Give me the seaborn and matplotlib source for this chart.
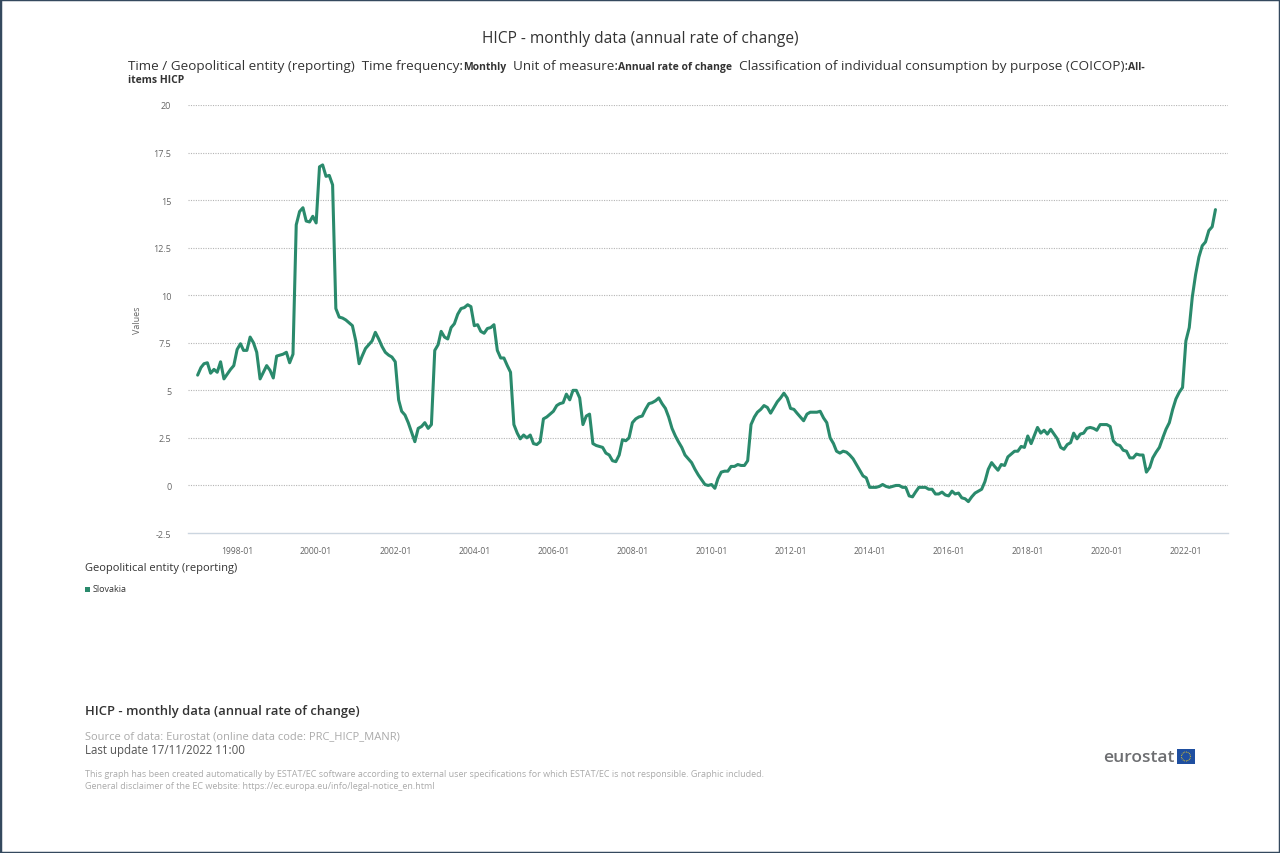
import numpy as np
import pandas as pd
import matplotlib
matplotlib.use("Agg")
import matplotlib.pyplot as plt
from matplotlib.patches import Rectangle, Circle
from matplotlib.transforms import IdentityTransform
import seaborn as sns

# HICP annual rate of change, Slovakia, monthly 1997-01 .. 2022-10
months = pd.date_range("1997-01-01", "2022-10-01", freq="MS")
slovakia = [
    5.8, 6.2, 6.4, 6.45, 5.9, 6.1, 5.95, 6.5, 5.6, 5.85, 6.1, 6.3,          # 1997
    7.15, 7.45, 7.1, 7.1, 7.8, 7.5, 7.0, 5.6, 5.95, 6.3, 6.05, 5.65,        # 1998
    6.8, 6.85, 6.9, 7.0, 6.45, 6.9, 13.7, 14.4, 14.6, 13.9, 13.85, 14.15,   # 1999
    13.8, 16.75, 16.85, 16.25, 16.3, 15.8, 9.3, 8.85, 8.8, 8.7, 8.55, 8.4,  # 2000
    7.6, 6.4, 6.8, 7.2, 7.4, 7.6, 8.05, 7.7, 7.3, 7.0, 6.85, 6.75,          # 2001
    6.5, 4.5, 3.9, 3.7, 3.3, 2.8, 2.3, 3.0, 3.1, 3.3, 3.0, 3.2,             # 2002
    7.1, 7.4, 8.1, 7.8, 7.7, 8.3, 8.5, 9.0, 9.3, 9.35, 9.5, 9.4,            # 2003
    8.4, 8.45, 8.1, 8.0, 8.25, 8.3, 8.45, 7.1, 6.7, 6.7, 6.3, 5.95,         # 2004
    3.2, 2.75, 2.45, 2.65, 2.5, 2.65, 2.2, 2.15, 2.3, 3.5, 3.6, 3.75,       # 2005
    3.9, 4.2, 4.3, 4.35, 4.8, 4.5, 5.0, 5.0, 4.6, 3.2, 3.65, 3.75,          # 2006
    2.2, 2.1, 2.05, 2.0, 1.7, 1.6, 1.3, 1.25, 1.6, 2.4, 2.35, 2.5,          # 2007
    3.3, 3.5, 3.6, 3.65, 4.0, 4.3, 4.35, 4.45, 4.6, 4.3, 4.05, 3.6,         # 2008
    3.0, 2.6, 2.3, 2.0, 1.6, 1.4, 1.2, 0.85, 0.55, 0.3, 0.05, 0.0,          # 2009
    0.05, -0.15, 0.35, 0.7, 0.75, 0.75, 1.0, 1.0, 1.1, 1.05, 1.05, 1.3,     # 2010
    3.2, 3.6, 3.85, 4.0, 4.2, 4.1, 3.8, 4.1, 4.4, 4.6, 4.85, 4.6,           # 2011
    4.05, 4.0, 3.8, 3.6, 3.4, 3.75, 3.85, 3.85, 3.85, 3.9, 3.55, 3.3,       # 2012
    2.5, 2.2, 1.8, 1.7, 1.8, 1.75, 1.6, 1.4, 1.1, 0.8, 0.5, 0.4,            # 2013
    -0.1, -0.1, -0.1, -0.05, 0.05, -0.05, -0.1, -0.05, 0.0, 0.0, -0.1, -0.1,  # 2014
    -0.55, -0.6, -0.35, -0.1, -0.1, -0.1, -0.2, -0.2, -0.45, -0.45, -0.35, -0.5,  # 2015
    -0.55, -0.3, -0.45, -0.4, -0.65, -0.7, -0.85, -0.6, -0.4, -0.3, -0.2, 0.2,  # 2016
    0.85, 1.2, 1.0, 0.8, 1.1, 1.05, 1.5, 1.65, 1.8, 1.8, 2.05, 2.0,         # 2017
    2.6, 2.2, 2.6, 3.05, 2.75, 2.9, 2.7, 2.95, 2.7, 2.45, 2.0, 1.9,         # 2018
    2.15, 2.25, 2.75, 2.45, 2.7, 2.75, 3.0, 3.05, 3.0, 2.9, 3.2, 3.2,       # 2019
    3.2, 3.1, 2.35, 2.15, 2.1, 1.85, 1.8, 1.45, 1.45, 1.65, 1.6, 1.6,       # 2020
    0.7, 0.95, 1.45, 1.75, 2.0, 2.5, 2.95, 3.3, 4.0, 4.55, 4.9, 5.15,       # 2021
    7.6, 8.3, 9.9, 11.1, 12.0, 12.6, 12.8, 13.4, 13.6, 14.5,                # 2022
]
y_ticks = [-2.5, 0, 2.5, 5, 7.5, 10, 12.5, 15, 17.5, 20]
y_labels = ["-2.5", "0", "2.5", "5", "7.5", "10", "12.5", "15", "17.5", "20"]
x_ticks = pd.to_datetime([f"{y}-01-01" for y in range(1998, 2023, 2)])
x_labels = [f"{y}-01" for y in range(1998, 2023, 2)]

GREEN = "#2a8a6c"
W, H = 1280, 854

sns.set_style("white")
plt.rcParams["font.family"] = ["Open Sans", "DejaVu Sans"]

df = pd.DataFrame({"month": months, "value": slovakia})

fig = plt.figure(figsize=(W / 100, H / 100), dpi=100)
ax = fig.add_axes([188 / W, 1 - 534 / H, (1228 - 188) / W, (534 - 106) / H])
sns.lineplot(data=df, x="month", y="value", ax=ax, color=GREEN, linewidth=2.2)

ax.set_ylim(-2.5, 20)
ax.set_xlim(pd.Timestamp("1996-10-04"), pd.Timestamp("2023-01-25"))
ax.set_yticks(y_ticks)
ax.set_yticklabels(y_labels)
ax.set_xticks(x_ticks)
ax.set_xticklabels(x_labels)
for v in y_ticks[1:]:
    ax.axhline(v, color="#b5b5b5", lw=0.8, ls=(0, (1, 1.2)), zorder=0)
for s in ["top", "left", "right"]:
    ax.spines[s].set_visible(False)
ax.spines["bottom"].set_color("#ccd6e0")
ax.spines["bottom"].set_linewidth(1)
ax.tick_params(axis="y", length=0, pad=12, labelsize=6.5, labelcolor="#666666")
ax.tick_params(axis="x", length=5, width=1, color="#ccd6e0", pad=4,
               labelsize=6.2, labelcolor="#666666")
ax.set_xlabel("")
ax.set_ylabel("")


def px(x, y):
    return x / W, 1 - y / H


def runs(x, y, parts):
    r = fig.canvas.get_renderer()
    for txt, kw in parts:
        t = fig.text(x, H - y, txt, transform=IdentityTransform(), va="baseline", **kw)
        x += t.get_window_extent(r).width


fig.text(*px(640, 39), "HICP - monthly data (annual rate of change)", ha="center",
         va="center", fontsize=11.2, color="#333333")
fig.text(*px(138, 320), "Values", rotation=90, ha="center", va="center",
         fontsize=6.5, color="#666666")

reg = dict(fontsize=9.7, color="#333333")
bld = dict(fontsize=7.5, color="#333333", fontweight="bold")
runs(128, 70, [
    ("Time / Geopolitical entity (reporting)  Time frequency:", reg),
    ("Monthly", bld),
    ("  Unit of measure:", reg),
    ("Annual rate of change", bld),
    ("  Classification of individual consumption by purpose (COICOP):", reg),
    ("All-", bld),
])
runs(128, 83, [("items HICP", bld)])

# legend
fig.text(*px(85, 569), "Geopolitical entity (reporting)", ha="left", va="center",
         fontsize=8.0, color="#333333")
fig.patches.append(Rectangle(px(85, 593), 5 / W, 5 / H, transform=fig.transFigure,
                             facecolor=GREEN, edgecolor="none"))
fig.text(*px(93, 590), "Slovakia", ha="left", va="center", fontsize=6.5, color="#333333")

# footer
fig.text(*px(85, 711), "HICP - monthly data (annual rate of change)", ha="left",
         va="center", fontsize=9.4, color="#333333", fontweight="semibold")
fig.text(*px(85, 737), "Source of data: Eurostat (online data code: PRC_HICP_MANR)",
         ha="left", va="center", fontsize=8.0, color="#aaaaaa")
fig.text(*px(85, 751), "Last update 17/11/2022 11:00", ha="left", va="center",
         fontsize=8.3, color="#555555")
fig.text(*px(85, 775), "This graph has been created automatically by ESTAT/EC software "
         "according to external user specifications for which ESTAT/EC is not "
         "responsible. Graphic included.", ha="left", va="center", fontsize=6.5,
         color="#aaaaaa")
fig.text(*px(85, 787), "General disclaimer of the EC website: "
         "https://ec.europa.eu/info/legal-notice_en.html", ha="left", va="center",
         fontsize=6.5, color="#aaaaaa")

# eurostat logo
fig.text(*px(1175, 758), "eurostat", ha="right", va="center", fontsize=12.5,
         color="#6d6e71", fontweight="semibold")
fig.patches.append(Rectangle(px(1177, 765), 18 / W, 15 / H, transform=fig.transFigure,
                             facecolor="#1f4fa0", edgecolor="none"))
fig.patches.append(Circle((1186, H - 757.5), 4.5, transform=IdentityTransform(),
                          fill=False, edgecolor="#ffd617", lw=0.8, ls=(0, (0.6, 0.9))))

# screenshot frame
fig.patches.append(Rectangle((0, 0), 1, 1, transform=fig.transFigure, fill=False,
                             edgecolor="#34495e", lw=2.5))

fig.savefig("out.png", dpi=100)
